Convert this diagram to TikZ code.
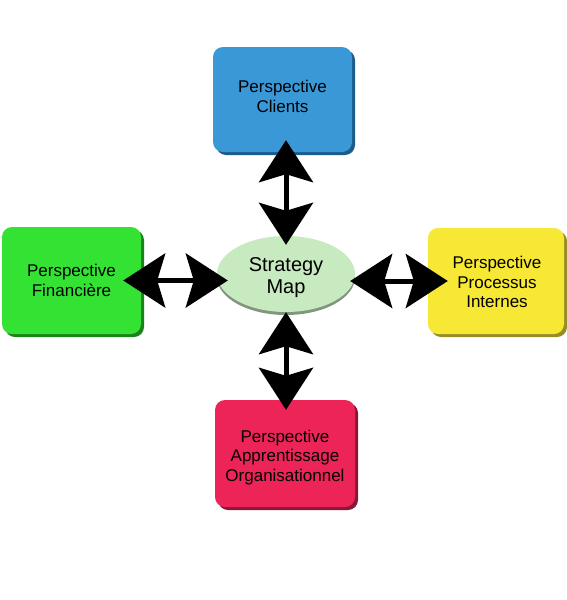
\documentclass[tikz,border=0pt]{standalone}
\usepackage{fontspec}
\setmainfont{Liberation Sans}
\usetikzlibrary{arrows.meta,shadows,shapes.geometric}
\definecolor{cBlue}{RGB}{58,152,214}
\definecolor{cBlueD}{RGB}{28,92,140}
\definecolor{cGreen}{RGB}{52,226,52}
\definecolor{cGreenD}{RGB}{28,130,28}
\definecolor{cYellow}{RGB}{246,232,52}
\definecolor{cYellowD}{RGB}{150,140,40}
\definecolor{cRed}{RGB}{236,36,88}
\definecolor{cRedD}{RGB}{140,22,55}
\definecolor{cEll}{RGB}{200,234,192}
\definecolor{cEllD}{RGB}{130,150,125}
\begin{document}
\begin{tikzpicture}[x=1pt,y=-1pt,
  pbox/.style={rectangle, rounded corners=10pt, inner sep=0pt, draw=none},
  ptxt/.style={align=center, font=\fontsize{17}{19.5}\selectfont, inner sep=0pt},
  dbl/.style={line width=5pt,
    {Stealth[length=42pt,width=54pt,inset=8pt]}-{Stealth[length=42pt,width=54pt,inset=8pt]}}]
\useasboundingbox (0,0) rectangle (567,600);
\fill[white] (0,0) rectangle (567,600);

\node[pbox, fill=cBlue, minimum width=139pt, minimum height=105pt,
  drop shadow={shadow xshift=3pt, shadow yshift=-3pt, fill=cBlueD, opacity=1},
  label={[name=clientstxt, ptxt, yshift=3pt]center:Perspective\\Clients}]
  (clients) at (282.5,99.5) {};
\node[pbox, fill=cGreen, minimum width=139pt, minimum height=107pt,
  drop shadow={shadow xshift=3pt, shadow yshift=-3pt, fill=cGreenD, opacity=1},
  label={[name=fintxt, ptxt]center:Perspective\\Financière}]
  (fin) at (71.5,280.5) {};
\node[pbox, fill=cYellow, minimum width=136pt, minimum height=106pt,
  drop shadow={shadow xshift=3pt, shadow yshift=-3pt, fill=cYellowD, opacity=1},
  label={[name=proctxt, ptxt, xshift=1pt, yshift=-1pt]center:Perspective\\Processus\\Internes}]
  (proc) at (496,281) {};
\node[pbox, fill=cRed, minimum width=140pt, minimum height=107pt,
  drop shadow={shadow xshift=3pt, shadow yshift=-3pt, fill=cRedD, opacity=1},
  label={[name=apptxt, ptxt, yshift=-4pt]center:Perspective\\Apprentissage\\Organisationnel}]
  (app) at (285,453.5) {};

\node[ellipse, fill=cEll, minimum width=138pt, minimum height=76pt, inner sep=0pt,
  drop shadow={shadow xshift=0pt, shadow yshift=-3pt, fill=cEllD, opacity=1},
  label={[name=maptxt, align=center, inner sep=0pt, font=\fontsize{20}{22}\selectfont, yshift=-4pt]center:Strategy\\Map}]
  (map) at (286,274) {};

\draw[dbl, shorten <=-12pt, shorten >=-9pt] (map.north |- clients.south) -- (map.north);
\draw[dbl, shorten <=-18pt, shorten >=-11pt] (fin.east) -- (fin.east -| map.west);
\draw[dbl, shorten <=-5pt, shorten >=-20pt] (map.east |- proc.west) -- (proc.west);
\draw[dbl, shorten <=0pt, shorten >=-10pt] (map.south) -- (map.south |- app.north);
\end{tikzpicture}
\end{document}
